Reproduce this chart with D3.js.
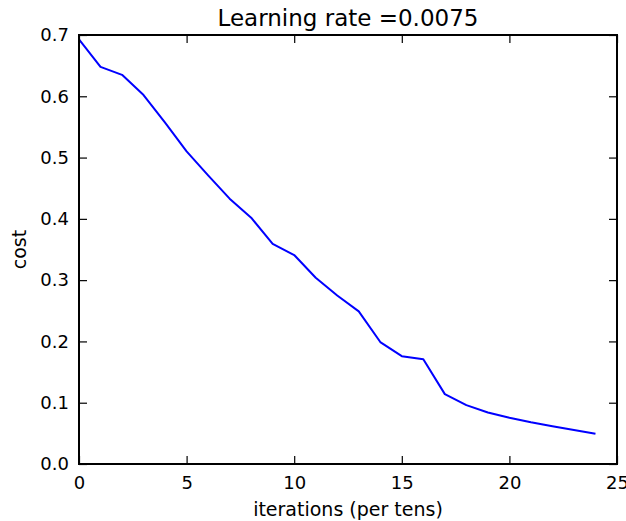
<!DOCTYPE html>
<html>
<head>
<meta charset="utf-8">
<script src="https://cdn.jsdelivr.net/npm/d3@7"></script>
<style>
  body { margin: 0; background: #fff; }
  text { font-family: "DejaVu Sans", sans-serif; fill: #000; }
</style>
</head>
<body>
<div id="wrapper"></div>
<script>
// cost recorded every ten iterations
const iterations = d3.range(0, 25);
const costs = [0.693, 0.648, 0.635, 0.602, 0.557, 0.510, 0.471, 0.433, 0.402, 0.359,
               0.341, 0.304, 0.275, 0.249, 0.199, 0.176, 0.171, 0.114, 0.096, 0.084,
               0.0755, 0.068, 0.0615, 0.0555, 0.0495];
const xTicks = [0, 5, 10, 15, 20, 25];
const yTicks = [0.0, 0.1, 0.2, 0.3, 0.4, 0.5, 0.6, 0.7];

const dataset = iterations.map((d, i) => ({ iter: d, cost: costs[i] }));
const xAccessor = d => d.iter;
const yAccessor = d => d.cost;

let dimensions = {
  width: 626,
  height: 521,
  margin: { top: 35, right: 9, bottom: 57, left: 79 },
};
dimensions.boundedWidth = dimensions.width - dimensions.margin.left - dimensions.margin.right;
dimensions.boundedHeight = dimensions.height - dimensions.margin.top - dimensions.margin.bottom;

const wrapper = d3.select("#wrapper")
  .append("svg")
  .attr("width", dimensions.width)
  .attr("height", dimensions.height);

const bounds = wrapper.append("g")
  .attr("transform", `translate(${dimensions.margin.left}, ${dimensions.margin.top})`);

const xScale = d3.scaleLinear()
  .domain([0, 25])
  .range([0, dimensions.boundedWidth]);

const yScale = d3.scaleLinear()
  .domain([0, 0.7])
  .range([dimensions.boundedHeight, 0]);

// line
const lineGenerator = d3.line()
  .x(d => xScale(xAccessor(d)))
  .y(d => yScale(yAccessor(d)));

bounds.append("path")
  .datum(dataset)
  .attr("d", lineGenerator)
  .attr("fill", "none")
  .attr("stroke", "#0000ff")
  .attr("stroke-width", 2)
  .attr("stroke-linejoin", "round");

// axes: ticks point inwards, mirrored on top/right
const tickLen = 8;
const styleAxis = g => {
  g.select(".domain").remove();
  g.selectAll(".tick line").attr("stroke", "#000").attr("stroke-width", 1.2);
  g.selectAll(".tick text").style("font-size", "18px").style("font-family", "DejaVu Sans").attr("fill", "#111");
};

bounds.append("g")
  .attr("transform", `translate(0, ${dimensions.boundedHeight})`)
  .call(d3.axisBottom(xScale).tickValues(xTicks).tickFormat(d3.format("d"))
    .tickSizeInner(-tickLen).tickSizeOuter(0).tickPadding(12))
  .call(styleAxis);

bounds.append("g")
  .call(d3.axisTop(xScale).tickValues(xTicks).tickFormat("")
    .tickSizeInner(-tickLen).tickSizeOuter(0))
  .call(styleAxis);

bounds.append("g")
  .call(d3.axisLeft(yScale).tickValues(yTicks).tickFormat(d3.format(".1f"))
    .tickSizeInner(-tickLen).tickSizeOuter(0).tickPadding(10))
  .call(styleAxis);

bounds.append("g")
  .attr("transform", `translate(${dimensions.boundedWidth}, 0)`)
  .call(d3.axisRight(yScale).tickValues(yTicks).tickFormat("")
    .tickSizeInner(-tickLen).tickSizeOuter(0))
  .call(styleAxis);

// frame
bounds.append("rect")
  .attr("width", dimensions.boundedWidth)
  .attr("height", dimensions.boundedHeight)
  .attr("fill", "none")
  .attr("stroke", "#000")
  .attr("stroke-width", 2);

// labels
bounds.append("text")
  .attr("x", dimensions.boundedWidth / 2)
  .attr("y", dimensions.boundedHeight + 52)
  .attr("text-anchor", "middle")
  .style("font-size", "19px")
  .attr("fill", "#111")
  .text("iterations (per tens)");

bounds.append("text")
  .attr("transform", `translate(${-dimensions.margin.left + 26}, ${dimensions.boundedHeight / 2}) rotate(-90)`)
  .attr("text-anchor", "middle")
  .style("font-size", "19px")
  .attr("fill", "#111")
  .text("cost");

bounds.append("text")
  .attr("x", dimensions.boundedWidth / 2)
  .attr("y", -9)
  .attr("text-anchor", "middle")
  .style("font-size", "23px")
  .attr("fill", "#111")
  .text("Learning rate =0.0075");
</script>
</body>
</html>
